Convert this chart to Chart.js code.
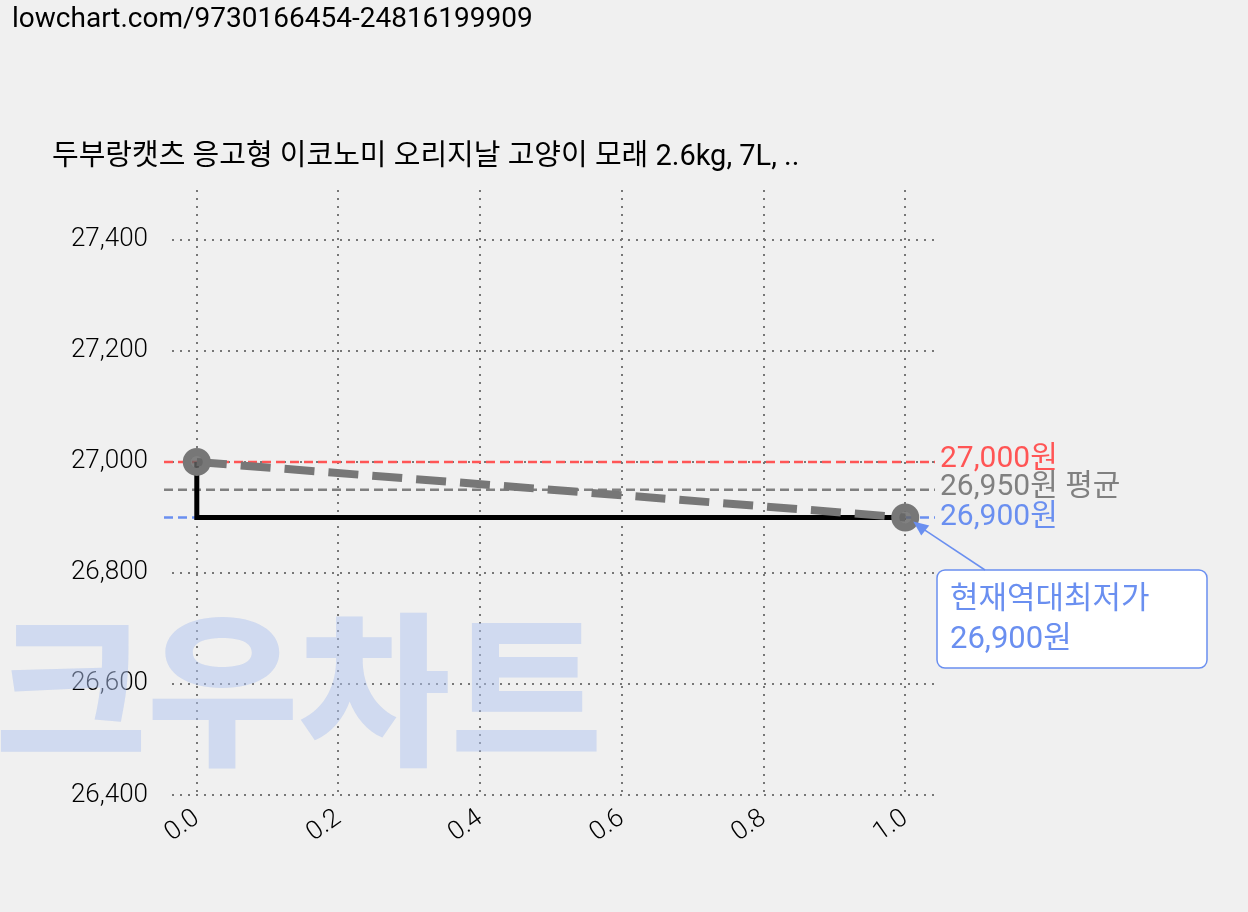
<!DOCTYPE html><html><head><meta charset="utf-8">
<script src="https://cdn.jsdelivr.net/npm/chart.js@4/dist/chart.umd.min.js"></script>
<style>body{margin:0;background:#f0f0f0}#w{position:absolute;left:0;top:0;width:1248px;height:912px}</style>
</head><body><div id="w"><canvas id="c"></canvas></div>
<script>
const title = "두부랑캣츠 응고형 이코노미 오리지날 고양이 모래 2.6kg, 7L, ..";
const urlText = "lowchart.com/9730166454-24816199909";
const xVals = [0, 1];
const prices = [27000, 26900];
const stepX = [0, 0, 1];
const stepY = [27000, 26900, 26900];
const maxPrice = 27000, avgPrice = 26950, minPrice = 26900;
const yTicks = [26400, 26600, 26800, 27000, 27200, 27400];
const xTicks = [0, 0.2, 0.4, 0.6, 0.8, 1.0];
const F = "Roboto, 'Noto Sans CJK KR', sans-serif";

const overlay = {
  id: 'overlay',
  beforeDatasetsDraw(ch) {
    const c = ch.ctx, ys = ch.scales.y;
    c.save();
    c.font = "900 165px 'Noto Sans CJK KR'"; c.fillStyle = "rgba(175,195,240,0.5)";
    c.textBaseline = "alphabetic"; c.fillText("크우차트", -5, 752);
    const l = ch.chartArea.left, r = ch.chartArea.right;
    [[maxPrice, "#ff5555"], [avgPrice, "#808080"], [minPrice, "#6a8ff0"]].forEach(([v, col]) => {
      const y = ys.getPixelForValue(v);
      c.strokeStyle = col; c.lineWidth = 2.5; c.setLineDash([9, 5]);
      c.beginPath(); c.moveTo(l - 8, y); c.lineTo(r, y); c.stroke();
    });
    c.restore();
  },
  afterDraw(ch) {
    const c = ch.ctx, xs = ch.scales.x, ys = ch.scales.y;
    c.save();
    c.font = "30px " + F; c.textBaseline = "middle";
    c.fillStyle = "#ff5555"; c.fillText("27,000원", 940, ys.getPixelForValue(maxPrice) - 2);
    c.fillStyle = "#808080"; c.fillText("26,950원 평균", 940, ys.getPixelForValue(avgPrice) - 2);
    c.fillStyle = "#6a8ff0"; c.fillText("26,900원", 940, ys.getPixelForValue(minPrice));
    c.fillStyle = "#000"; c.textBaseline = "alphabetic";
    c.font = "28px " + F; c.fillText(urlText, 12, 27);
    c.font = "29px " + F; c.fillText(title, 52, 165);
    const bx = 937, by = 570, bw = 270, bh = 98;
    c.fillStyle = "#fff"; c.strokeStyle = "#6a8ff0"; c.lineWidth = 1.5;
    c.beginPath(); c.roundRect(bx, by, bw, bh, 8); c.fill(); c.stroke();
    c.fillStyle = "#6a8ff0"; c.font = "31px " + F;
    c.fillText("현재역대최저가", 950, 608); c.fillText("26,900원", 950, 648);
    const px = xs.getPixelForValue(1) + 8, py = ys.getPixelForValue(minPrice) + 4;
    c.beginPath(); c.moveTo(985, 570); c.lineTo(px + 6, py + 5); c.stroke();
    c.beginPath(); c.moveTo(px, py); c.lineTo(px + 16, py + 4); c.lineTo(px + 8, py + 14); c.closePath(); c.fill();
    c.restore();
  }
};

new Chart(document.getElementById('c'), {
  type: 'scatter',
  data: { datasets: [
    { data: xVals.map((x, i) => ({x, y: prices[i]})), showLine: true, borderColor: '#777', borderWidth: 8,
      borderDash: [30, 14], pointRadius: 10, pointBackgroundColor: 'rgba(100,100,100,0.8)', pointBorderColor: '#777' },
    { data: stepX.map((x, i) => ({x, y: stepY[i]})), showLine: true, borderColor: '#000', borderWidth: 5, pointRadius: 0 }
  ]},
  options: {
    animation: false, responsive: true, maintainAspectRatio: false,
    layout: { padding: { left: 0, right: 313, top: 190, bottom: 0 } },
    plugins: { legend: { display: false }, tooltip: { enabled: false } },
    scales: {
      x: { type: 'linear', min: -0.035, max: 1.042, afterBuildTicks: s => { s.ticks = xTicks.map(v => ({value: v})); },
        afterFit: s => { s.height = 117; },
        grid: { color: '#777', lineWidth: 2, tickLength: 0 }, border: { display: false, dash: [2, 6] },
        ticks: { maxRotation: 35, minRotation: 35, padding: 8, color: '#000', font: { family: F, size: 26, weight: '300' }, callback: v => v.toFixed(1) } },
      y: { min: 26400, max: 27490, afterBuildTicks: s => { s.ticks = yTicks.map(v => ({value: v})); },
        afterFit: s => { s.width = 172; },
        grid: { color: '#777', lineWidth: 2, tickLength: 0 }, border: { display: false, dash: [2, 6] },
        ticks: { padding: 24, color: '#000', font: { family: F, size: 26, weight: '300' }, callback: v => v.toLocaleString('en-US') } }
    }
  },
  plugins: [overlay]
});
</script></body></html>
